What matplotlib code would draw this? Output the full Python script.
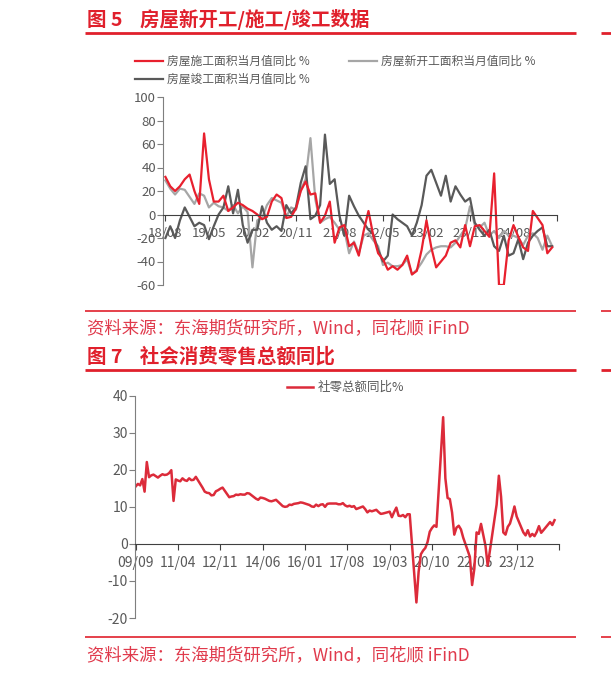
import numpy as np
import pandas as pd
import matplotlib
matplotlib.use("Agg")
from matplotlib import pyplot as plt
from matplotlib.lines import Line2D

plt.rcParams['font.family'] = ['Noto Sans CJK SC', 'DejaVu Sans']
plt.rcParams['axes.unicode_minus'] = False

W, H = 611, 674

# ---------------- data: figure 5 (monthly, 2018-08 .. 2025-04) ----------------
house_ticks = ['18/08', '19/05', '20/02', '20/11', '21/08', '22/05', '23/02', '23/11', '24/08']

construction_yoy = [32, 24, 20, 24, 30, 34, 20, 9, 69, 30, 11, 11, 16, 3, 6, 10, 8, 5, 3, 0,
                    -4, -2, 11, 17, 14, -3, -2, 5, 20, 28, 17, 18, -7, -1, 11, -24, -11, -9, -27, -24,
                    -35, -14, 3, -18, -33, -38, -47, -44, -47, -43, -35, -51, -48, -30, -5, -28, -45, -40, -35, -24,
                    -22, -28, -9, -27, -10, -9, -14, -19, 35, -60, -60, -22, -9, -19, -28, -31, 3, -3, -9, -33,
                    -28]
new_start_yoy = [29, 22, 17, 22, 21, 15, 9, 18, 16, 6, 10, 7, 6, 3, 8, 1, 7, 2, -45, -5,
                 -3, 8, 14, 12, 10, -2, 6, 4, 21, 30, 65, 13, -7, -4, -2, -7, -13, -13, -33, -23,
                 -33, -18, -16, -22, -27, -43, -41, -44, -44, -43, -38, -51, -47, -41, -34, -30, -28, -27, -27, -28,
                 -24, -18, -12, 7, -9, -11, -7, -18, -14, -20, -14, -18, -18, -20, -26, -18, -16, -20, -30, -18,
                 -27]
completion_yoy = [-20, -10, -20, -5, 6, -2, -10, -7, -9, -21, -10, 0, 6, 24, 1, 21, -9, -24, -13, -13,
                  7, -7, -13, -10, -14, 8, 1, 6, 27, 41, -4, -1, 8, 68, 26, 30, -1, -18, 16, 7,
                  -1, -7, -13, -17, -30, -40, -35, 0, -4, -7, -10, -18, -7, 8, 33, 38, 27, 16, 33, 11,
                  24, 17, 11, 14, -7, -13, -18, -13, -27, -31, -18, -35, -33, -21, -38, -24, -18, -14, -11, -27,
                  -27]

# ---------------- data: figure 7 (monthly, 2009-09 .. 2025-05, Jan/Feb missing later) ----------------
retail_ticks = ['09/09', '11/04', '12/11', '14/06', '16/01', '17/08', '19/03', '20/10', '22/05', '23/12']
nan = np.nan
retail_2009 = [15.5, 16.2, 15.8, 17.5]
retail_2010 = [14.1, 22.1, 18.0, 18.5, 18.7, 18.3, 17.9, 18.4, 18.8, 18.6, 18.7, 19.1]
retail_2011 = [19.9, 11.6, 17.4, 17.1, 16.9, 17.7, 17.2, 17.0, 17.7, 17.2, 17.3, 18.1]
retail_2012 = [nan, nan, 15.2, 14.1, 13.8, 13.7, 13.1, 13.2, 14.2, 14.5, 14.9, 15.2]
retail_2013 = [nan, nan, 12.6, 12.8, 12.9, 13.3, 13.2, 13.4, 13.3, 13.3, 13.7, 13.6]
retail_2014 = [nan, nan, 12.2, 11.9, 12.5, 12.4, 12.2, 11.9, 11.6, 11.5, 11.7, 11.9]
retail_2015 = [nan, nan, 10.2, 10.0, 10.1, 10.6, 10.5, 10.8, 10.9, 11.0, 11.2, 11.1]
retail_2016 = [nan, nan, 10.5, 10.1, 10.0, 10.6, 10.2, 10.6, 10.7, 10.0, 10.8, 10.9]
retail_2017 = [nan, nan, 10.9, 10.7, 10.7, 11.0, 10.4, 10.1, 10.3, 10.0, 10.2, 9.4]
retail_2018 = [nan, nan, 10.1, 9.4, 8.5, 9.0, 8.8, 9.0, 9.2, 8.6, 8.1, 8.2]
retail_2019 = [nan, nan, 8.7, 7.2, 8.6, 9.8, 7.6, 7.5, 7.8, 7.2, 8.0, 8.0]
retail_2020 = [nan, nan, -15.8, -7.5, -2.8, -1.8, -1.1, 0.5, 3.3, 4.3, 5.0, 4.6]
retail_2021 = [nan, nan, 34.2, 17.7, 12.4, 12.1, 8.5, 2.5, 4.4, 4.9, 3.9, 1.7]
retail_2022 = [nan, nan, -3.5, -11.1, -6.7, 3.1, 2.7, 5.4, 2.5, -0.5, -5.9, -1.8]
retail_2023 = [nan, nan, 10.6, 18.4, 12.7, 3.1, 2.5, 4.6, 5.5, 7.6, 10.1, 7.4]
retail_2024 = [nan, nan, 3.1, 2.3, 3.7, 2.0, 2.7, 2.1, 3.2, 4.8, 3.0, 3.7]
retail_2025 = [nan, nan, 5.9, 5.1, 6.4]

retail_yoy = np.array(retail_2009 + retail_2010 + retail_2011 + retail_2012 + retail_2013 + retail_2014
                      + retail_2015 + retail_2016 + retail_2017 + retail_2018 + retail_2019 + retail_2020
                      + retail_2021 + retail_2022 + retail_2023 + retail_2024 + retail_2025)
retail_months = pd.period_range('2009-09', periods=len(retail_yoy), freq='M')

RED = '#e0202c'
SRC = '#e03a4c'
TXT = '#595959'
AX = '#7f7f7f'


def fx(x):
    return x / W


def fy(y):
    return 1 - y / H


def hline(fig, x0, x1, y, lw, color=RED):
    fig.add_artist(Line2D([fx(x0), fx(x1)], [fy(y), fy(y)], transform=fig.transFigure,
                          color=color, lw=lw, solid_capstyle='butt'))


def box(fig, x0, y0, x1, y1):
    return fig.add_axes([fx(x0), fy(y1), fx(x1) - fx(x0), fy(y0) - fy(y1)])


def style(ax, yticks, xticks, xlabels, fs, xpad):
    for s in ['top', 'right']:
        ax.spines[s].set_visible(False)
    ax.spines['left'].set_color(AX)
    ax.spines['bottom'].set_color('#404040')
    ax.spines['bottom'].set_position(('data', 0))
    ax.set_yticks(yticks)
    ax.set_xticks(xticks)
    ax.set_xticklabels(xlabels)
    ax.tick_params(axis='y', colors=AX, labelcolor=TXT, labelsize=fs, length=4, pad=1)
    ax.tick_params(axis='x', colors='#404040', labelcolor=TXT, labelsize=fs, length=4, pad=xpad)
    ax.set_axisbelow(True)
    ax.patch.set_visible(False)


fig = plt.figure(figsize=(W / 100, H / 100), dpi=100)

# ---------------- header / footer decorations ----------------
fig.text(fx(87), fy(20), '图 5    房屋新开工/施工/竣工数据', color=RED, fontsize=14,
         fontweight='bold', va='center', ha='left')
hline(fig, 85, 576, 33, 2)
hline(fig, 85, 576, 311, 1.2)
fig.text(fx(87), fy(328), '资料来源：东海期货研究所，Wind，同花顺 iFinD', color=SRC, fontsize=12.5,
         va='center', ha='left')
fig.text(fx(87), fy(357), '图 7    社会消费零售总额同比', color=RED, fontsize=14,
         fontweight='bold', va='center', ha='left')
hline(fig, 85, 576, 370, 2)
hline(fig, 85, 576, 637, 1.2)
fig.text(fx(87), fy(655), '资料来源：东海期货研究所，Wind，同花顺 iFinD', color=SRC, fontsize=12.5,
         va='center', ha='left')
# neighbouring column rules at the right edge
for y, lw in [(33, 2), (311, 1.2), (370, 2), (637, 1.2)]:
    hline(fig, 601, 611, y, lw)

# ---------------- figure 5 ----------------
ax1 = box(fig, 163, 97, 557, 285)
n1 = len(construction_yoy)
x1 = np.arange(n1)
ax1.plot(x1, new_start_yoy, color='#a6a6a6', lw=1.6, label='房屋新开工面积当月值同比 %')
ax1.plot(x1, completion_yoy, color='#595959', lw=1.6, label='房屋竣工面积当月值同比 %')
ax1.plot(x1, construction_yoy, color='#e8202e', lw=1.6, label='房屋施工面积当月值同比 %')
ax1.set_xlim(-0.5, 81)
ax1.set_ylim(-60, 100)
style(ax1, np.arange(-60, 101, 20), np.arange(0, 82, 9), house_ticks + [''], 9.5, 5)

# legend drawn by hand in the header area of the chart
leg = [(135, 61, '#e8202e', '房屋施工面积当月值同比 %'),
       (349, 61, '#a6a6a6', '房屋新开工面积当月值同比 %'),
       (135, 79, '#595959', '房屋竣工面积当月值同比 %')]
for x0, y0, c, t in leg:
    fig.add_artist(Line2D([fx(x0), fx(x0 + 28)], [fy(y0), fy(y0)], transform=fig.transFigure,
                          color=c, lw=1.6))
    fig.text(fx(x0 + 32), fy(y0), t, color=TXT, fontsize=8.5, va='center', ha='left')

# ---------------- figure 7 ----------------
ax2 = box(fig, 135, 395.7, 559, 618)
idx = np.array([(p.year - 2009) * 12 + p.month - 9 for p in retail_months])
ok = ~np.isnan(retail_yoy)
ax2.plot(idx[ok], retail_yoy[ok], color='#dc2b3a', lw=1.8)
ax2.set_xlim(-0.3, 190)
ax2.set_ylim(-20, 40)
style(ax2, np.arange(-20, 41, 10), np.arange(0, 191, 19), retail_ticks + [''], 10, 5)

fig.add_artist(Line2D([fx(287), fx(313)], [fy(387), fy(387)], transform=fig.transFigure,
                      color='#dc2b3a', lw=1.8))
fig.text(fx(318), fy(387), '社零总额同比%', color=TXT, fontsize=9, va='center', ha='left')

fig.savefig('out.png', dpi=100)
